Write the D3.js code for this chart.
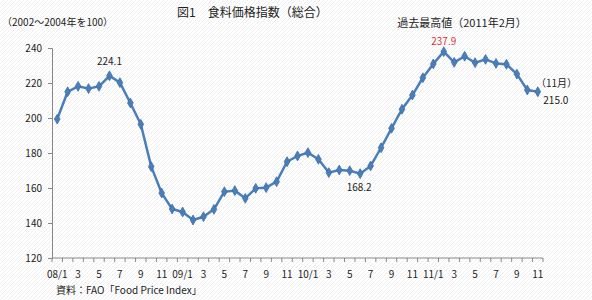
<!DOCTYPE html>
<html>
<head>
<meta charset="utf-8">
<script src="https://cdn.jsdelivr.net/npm/d3@7"></script>
<style>
  body { margin: 0; background: #fff; }
  text { font-family: "Noto Sans CJK JP", "Noto Sans", sans-serif; fill: #222; }
</style>
</head>
<body>
<div id="chart"></div>
<script>
var width = 592, height = 300;

// FAO food price index, 2008/1 - 2011/11 (2002-2004 = 100)
var months = [];
var years = ['08', '09', '10', '11'];
years.forEach(function(y, i) {
    var last = (i == 3) ? 11 : 12;
    for (var m = 1; m <= last; m++) months.push(y + '/' + m);
});

var values = [
    199.4, 215.0, 218.1, 216.8, 218.1, 224.1, 220.2, 208.6, 196.4, 172.2, 157.1, 148.0,
    146.3, 141.7, 143.6, 147.8, 157.9, 158.5, 154.1, 159.8, 160.2, 163.6, 175.0, 178.3,
    180.2, 176.4, 168.8, 170.3, 169.9, 168.2, 172.6, 183.0, 194.1, 205.0, 213.1, 223.0,
    230.9, 237.9, 231.8, 235.3, 231.6, 233.5, 231.2, 230.7, 225.1, 216.0, 215.0
];

var yTicks = [120, 140, 160, 180, 200, 220, 240];

var svg = d3.select('#chart')
    .append('svg')
    .attr('width', width)
    .attr('height', height)

// faint diagonal hatch background
var pat = svg.append('defs').append('pattern')
    .attr('id', 'hatch')
    .attr('width', 4)
    .attr('height', 4)
    .attr('patternUnits', 'userSpaceOnUse')
pat.append('rect').attr('width', 4).attr('height', 4).attr('fill', '#fff')
pat.append('path')
    .attr('d', 'M-1,1 l2,-2 M0,4 l4,-4 M3,5 l2,-2')
    .attr('stroke', '#f0f0f0')
    .attr('stroke-width', 1)
svg.append('rect').attr('width', width).attr('height', height).attr('fill', 'url(#hatch)')

var x = d3.scaleBand()
    .domain(months)
    .range([52, 543])

var y = d3.scaleLinear()
    .domain([120, 240])
    .range([258, 48])

// axes
var xAxis = svg.append('g')
    .attr('transform', 'translate(0,258)')
xAxis.append('line')
    .attr('x1', 52).attr('x2', 543)
    .attr('stroke', '#888')
xAxis.selectAll('.tk')
    .data(months.concat(['end']))
    .enter()
    .append('line')
    .attr('x1', function(d, i) { return 52 + i * x.step() })
    .attr('x2', function(d, i) { return 52 + i * x.step() })
    .attr('y1', 0).attr('y2', 4)
    .attr('stroke', '#888')
xAxis.selectAll('text')
    .data(months.filter(function(d, i) { return i % 2 == 0 }))
    .enter()
    .append('text')
    .attr('x', function(d) { return x(d) + x.bandwidth() / 2 })
    .attr('y', 20)
    .attr('text-anchor', 'middle')
    .style('font-size', '10px')
    .text(function(d) {
        var p = d.split('/');
        return p[1] == '1' ? d : p[1];
    })

var yAxis = svg.append('g')
    .attr('transform', 'translate(52,0)')
    .call(d3.axisLeft(y).tickValues(yTicks).tickSize(4).tickPadding(6))
yAxis.select('.domain').attr('stroke', '#888')
yAxis.selectAll('.tick line').attr('stroke', '#888')
yAxis.selectAll('.tick text')
    .style('font-size', '10px')
    .style('font-family', '"Noto Sans CJK JP", "Noto Sans", sans-serif')
    .attr('fill', '#222')

// series
var cx = function(d, i) { return x(months[i]) + x.bandwidth() / 2 };

var line = d3.line()
    .x(cx)
    .y(function(d) { return y(d) })

svg.append('path')
    .datum(values)
    .attr('d', line)
    .attr('fill', 'none')
    .attr('stroke', '#4a7ebb')
    .attr('stroke-width', 2.5)
    .attr('stroke-linejoin', 'round')

svg.selectAll('.mk')
    .data(values)
    .enter()
    .append('path')
    .attr('d', d3.symbol().type(d3.symbolDiamond).size(28))
    .attr('transform', function(d, i) { return 'translate(' + cx(d, i) + ',' + y(d) + ')' })
    .attr('fill', '#4a7ebb')
    .attr('stroke', '#3d6ea8')
    .attr('stroke-width', 0.8)

// titles and notes
svg.append('text')
    .attr('x', 177).attr('y', 17)
    .style('font-size', '12px')
    .text('図1　食料価格指数（総合）')

svg.append('text')
    .attr('x', 2).attr('y', 26)
    .style('font-size', '10px')
    .text('（2002～2004年を100）')

svg.append('text')
    .attr('x', 462).attr('y', 27)
    .attr('text-anchor', 'middle')
    .style('font-size', '11px')
    .text('過去最高値（2011年2月）')

var labels = [
    { i: 5, text: '224.1', dx: 0, dy: -11, color: '#222' },
    { i: 37, text: '237.9', dx: 0, dy: -7, color: '#e03030' },
    { i: 29, text: '168.2', dx: -1, dy: 17, color: '#222' },
    { i: 46, text: '215.0', dx: 18, dy: 12, color: '#222' }
];
svg.selectAll('.lbl')
    .data(labels)
    .enter()
    .append('text')
    .attr('x', function(d) { return cx(values[d.i], d.i) + d.dx })
    .attr('y', function(d) { return y(values[d.i]) + d.dy })
    .attr('text-anchor', 'middle')
    .style('font-size', '10px')
    .style('fill', function(d) { return d.color })
    .text(function(d) { return d.text })

svg.append('text')
    .attr('x', 536).attr('y', 87)
    .style('font-size', '10px')
    .text('（11月）')

svg.append('text')
    .attr('x', 56).attr('y', 294)
    .style('font-size', '10px')
    .text('資料：FAO「Food Price Index」')
</script>
</body>
</html>
